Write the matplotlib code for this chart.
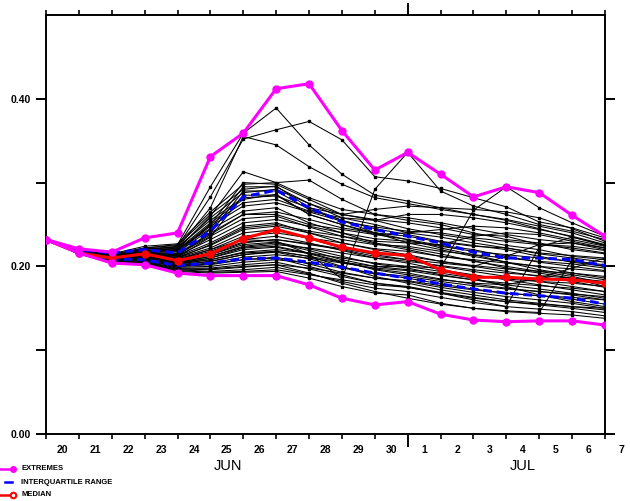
import numpy as np
import matplotlib.pyplot as plt
from matplotlib.lines import Line2D

# days from Jun 20 00:00 (0) to Jul 7 00:00 (17)
days = np.arange(18)
day_labels = ['20', '21', '22', '23', '24', '25', '26', '27', '28', '29', '30',
              '1', '2', '3', '4', '5', '6', '7']

ext_max = [0.232, 0.221, 0.217, 0.234, 0.240, 0.331, 0.359, 0.412, 0.418, 0.362,
           0.315, 0.336, 0.310, 0.283, 0.295, 0.288, 0.261, 0.236]
ext_min = [0.232, 0.216, 0.204, 0.202, 0.192, 0.189, 0.189, 0.189, 0.178, 0.162,
           0.154, 0.158, 0.143, 0.136, 0.134, 0.135, 0.135, 0.130]
median = [0.232, 0.216, 0.210, 0.215, 0.207, 0.215, 0.233, 0.244, 0.234, 0.223,
          0.216, 0.213, 0.196, 0.187, 0.187, 0.185, 0.184, 0.180]
q_upper = [0.232, 0.220, 0.216, 0.220, 0.216, 0.242, 0.283, 0.291, 0.270, 0.253,
           0.244, 0.236, 0.228, 0.217, 0.210, 0.210, 0.208, 0.201]
q_lower = [0.232, 0.217, 0.209, 0.208, 0.201, 0.204, 0.209, 0.210, 0.205, 0.199,
           0.192, 0.186, 0.179, 0.173, 0.168, 0.165, 0.162, 0.155]

# ensemble members
members = [
    [0.232, 0.219, 0.214, 0.222, 0.226, 0.295, 0.359, 0.389, 0.345, 0.310, 0.285, 0.278, 0.270, 0.262, 0.255, 0.245, 0.235, 0.225],
    [0.232, 0.220, 0.213, 0.220, 0.224, 0.283, 0.352, 0.363, 0.373, 0.351, 0.307, 0.302, 0.293, 0.282, 0.271, 0.253, 0.246, 0.234],
    [0.232, 0.219, 0.212, 0.218, 0.222, 0.270, 0.355, 0.345, 0.319, 0.298, 0.282, 0.275, 0.268, 0.262, 0.256, 0.248, 0.240, 0.228],
    [0.232, 0.218, 0.211, 0.216, 0.220, 0.260, 0.313, 0.300, 0.303, 0.280, 0.262, 0.255, 0.250, 0.240, 0.232, 0.228, 0.220, 0.215],
    [0.232, 0.218, 0.210, 0.217, 0.215, 0.250, 0.300, 0.298, 0.280, 0.262, 0.255, 0.245, 0.238, 0.232, 0.225, 0.220, 0.212, 0.208],
    [0.232, 0.219, 0.212, 0.219, 0.221, 0.245, 0.295, 0.295, 0.275, 0.258, 0.250, 0.240, 0.235, 0.228, 0.222, 0.215, 0.210, 0.205],
    [0.232, 0.218, 0.210, 0.214, 0.213, 0.240, 0.290, 0.290, 0.268, 0.255, 0.245, 0.238, 0.230, 0.225, 0.220, 0.212, 0.205, 0.200],
    [0.232, 0.217, 0.209, 0.213, 0.211, 0.235, 0.285, 0.285, 0.262, 0.250, 0.240, 0.232, 0.225, 0.220, 0.212, 0.205, 0.200, 0.195],
    [0.232, 0.220, 0.215, 0.224, 0.227, 0.265, 0.298, 0.300, 0.282, 0.268, 0.262, 0.258, 0.252, 0.245, 0.238, 0.232, 0.228, 0.222],
    [0.232, 0.219, 0.214, 0.222, 0.225, 0.262, 0.292, 0.296, 0.270, 0.255, 0.240, 0.228, 0.220, 0.212, 0.205, 0.196, 0.190, 0.184],
    [0.232, 0.219, 0.213, 0.221, 0.222, 0.258, 0.288, 0.292, 0.275, 0.262, 0.256, 0.252, 0.246, 0.238, 0.236, 0.226, 0.224, 0.219],
    [0.232, 0.218, 0.212, 0.219, 0.220, 0.252, 0.280, 0.286, 0.262, 0.250, 0.238, 0.232, 0.222, 0.214, 0.205, 0.200, 0.192, 0.186],
    [0.232, 0.218, 0.212, 0.218, 0.218, 0.248, 0.272, 0.276, 0.265, 0.254, 0.247, 0.242, 0.240, 0.234, 0.230, 0.226, 0.222, 0.216],
    [0.232, 0.218, 0.211, 0.217, 0.217, 0.244, 0.266, 0.270, 0.252, 0.240, 0.228, 0.222, 0.215, 0.206, 0.200, 0.194, 0.188, 0.180],
    [0.232, 0.218, 0.211, 0.216, 0.215, 0.240, 0.262, 0.265, 0.256, 0.246, 0.240, 0.236, 0.229, 0.224, 0.222, 0.216, 0.213, 0.210],
    [0.232, 0.217, 0.210, 0.216, 0.214, 0.236, 0.257, 0.260, 0.247, 0.236, 0.227, 0.220, 0.212, 0.207, 0.198, 0.192, 0.186, 0.176],
    [0.232, 0.217, 0.210, 0.215, 0.213, 0.232, 0.252, 0.256, 0.248, 0.240, 0.233, 0.230, 0.224, 0.218, 0.214, 0.210, 0.206, 0.202],
    [0.232, 0.217, 0.210, 0.215, 0.212, 0.228, 0.248, 0.252, 0.240, 0.228, 0.220, 0.214, 0.206, 0.200, 0.194, 0.188, 0.182, 0.175],
    [0.232, 0.217, 0.209, 0.214, 0.211, 0.225, 0.244, 0.248, 0.240, 0.232, 0.226, 0.224, 0.218, 0.214, 0.210, 0.206, 0.203, 0.198],
    [0.232, 0.217, 0.209, 0.214, 0.210, 0.222, 0.240, 0.244, 0.233, 0.222, 0.214, 0.208, 0.200, 0.194, 0.188, 0.182, 0.176, 0.170],
    [0.232, 0.216, 0.209, 0.213, 0.209, 0.220, 0.236, 0.240, 0.234, 0.228, 0.221, 0.218, 0.212, 0.208, 0.204, 0.200, 0.197, 0.194],
    [0.232, 0.216, 0.208, 0.213, 0.208, 0.218, 0.232, 0.236, 0.228, 0.219, 0.210, 0.204, 0.196, 0.190, 0.184, 0.178, 0.172, 0.166],
    [0.232, 0.216, 0.208, 0.212, 0.207, 0.216, 0.229, 0.232, 0.227, 0.221, 0.215, 0.212, 0.206, 0.201, 0.197, 0.194, 0.192, 0.188],
    [0.232, 0.216, 0.208, 0.212, 0.206, 0.214, 0.226, 0.229, 0.221, 0.212, 0.203, 0.198, 0.190, 0.184, 0.178, 0.173, 0.168, 0.162],
    [0.232, 0.216, 0.207, 0.211, 0.205, 0.212, 0.223, 0.226, 0.222, 0.216, 0.210, 0.206, 0.201, 0.196, 0.192, 0.189, 0.186, 0.182],
    [0.232, 0.216, 0.207, 0.211, 0.204, 0.210, 0.220, 0.223, 0.215, 0.205, 0.197, 0.192, 0.185, 0.179, 0.174, 0.170, 0.166, 0.160],
    [0.232, 0.215, 0.207, 0.210, 0.203, 0.208, 0.217, 0.220, 0.216, 0.210, 0.204, 0.200, 0.194, 0.189, 0.185, 0.182, 0.180, 0.176],
    [0.232, 0.215, 0.206, 0.210, 0.202, 0.206, 0.214, 0.217, 0.209, 0.199, 0.191, 0.186, 0.179, 0.173, 0.168, 0.165, 0.161, 0.155],
    [0.232, 0.215, 0.206, 0.209, 0.201, 0.204, 0.211, 0.214, 0.210, 0.204, 0.198, 0.195, 0.189, 0.184, 0.180, 0.177, 0.174, 0.170],
    [0.232, 0.215, 0.206, 0.208, 0.200, 0.202, 0.208, 0.211, 0.203, 0.193, 0.186, 0.182, 0.175, 0.169, 0.164, 0.160, 0.156, 0.150],
    [0.232, 0.215, 0.205, 0.207, 0.199, 0.200, 0.205, 0.208, 0.204, 0.198, 0.192, 0.188, 0.182, 0.177, 0.173, 0.170, 0.167, 0.164],
    [0.232, 0.215, 0.205, 0.206, 0.198, 0.198, 0.202, 0.205, 0.197, 0.188, 0.180, 0.176, 0.169, 0.163, 0.158, 0.154, 0.150, 0.145],
    [0.232, 0.215, 0.205, 0.205, 0.197, 0.196, 0.199, 0.202, 0.198, 0.192, 0.186, 0.183, 0.177, 0.172, 0.168, 0.165, 0.163, 0.160],
    [0.232, 0.215, 0.205, 0.204, 0.196, 0.194, 0.196, 0.199, 0.191, 0.182, 0.174, 0.170, 0.163, 0.157, 0.152, 0.149, 0.146, 0.141],
    [0.232, 0.215, 0.205, 0.204, 0.195, 0.193, 0.194, 0.196, 0.190, 0.184, 0.178, 0.175, 0.168, 0.162, 0.158, 0.155, 0.152, 0.148],
    [0.232, 0.216, 0.205, 0.203, 0.194, 0.192, 0.193, 0.194, 0.186, 0.176, 0.168, 0.166, 0.156, 0.150, 0.146, 0.144, 0.142, 0.138],
    [0.232, 0.217, 0.209, 0.213, 0.208, 0.220, 0.232, 0.230, 0.215, 0.185, 0.292, 0.336, 0.290, 0.272, 0.262, 0.250, 0.242, 0.232],
    [0.232, 0.216, 0.207, 0.210, 0.203, 0.208, 0.216, 0.218, 0.212, 0.205, 0.200, 0.200, 0.198, 0.267, 0.295, 0.270, 0.252, 0.236],
    [0.232, 0.216, 0.206, 0.208, 0.200, 0.203, 0.208, 0.210, 0.200, 0.190, 0.180, 0.175, 0.168, 0.160, 0.152, 0.223, 0.235, 0.225],
    [0.232, 0.215, 0.205, 0.205, 0.197, 0.197, 0.200, 0.202, 0.192, 0.180, 0.170, 0.162, 0.155, 0.150, 0.147, 0.145, 0.208, 0.200],
    [0.232, 0.219, 0.213, 0.221, 0.223, 0.255, 0.282, 0.284, 0.270, 0.262, 0.268, 0.272, 0.270, 0.268, 0.265, 0.258, 0.245, 0.230],
    [0.232, 0.218, 0.212, 0.219, 0.219, 0.250, 0.276, 0.280, 0.266, 0.258, 0.255, 0.262, 0.262, 0.258, 0.252, 0.244, 0.236, 0.226],
    [0.232, 0.217, 0.210, 0.216, 0.214, 0.238, 0.262, 0.262, 0.250, 0.244, 0.238, 0.240, 0.244, 0.248, 0.246, 0.240, 0.232, 0.224],
    [0.232, 0.217, 0.209, 0.214, 0.210, 0.226, 0.246, 0.250, 0.242, 0.236, 0.230, 0.228, 0.226, 0.236, 0.240, 0.238, 0.230, 0.222],
    [0.232, 0.216, 0.208, 0.212, 0.206, 0.214, 0.228, 0.232, 0.226, 0.220, 0.212, 0.208, 0.204, 0.200, 0.212, 0.226, 0.228, 0.220],
    [0.232, 0.216, 0.207, 0.210, 0.203, 0.210, 0.222, 0.224, 0.216, 0.206, 0.196, 0.190, 0.184, 0.180, 0.178, 0.186, 0.198, 0.210],
    [0.232, 0.215, 0.206, 0.209, 0.201, 0.206, 0.214, 0.218, 0.212, 0.200, 0.188, 0.180, 0.172, 0.166, 0.160, 0.156, 0.152, 0.150],
    [0.232, 0.216, 0.207, 0.211, 0.204, 0.212, 0.224, 0.228, 0.219, 0.208, 0.200, 0.196, 0.192, 0.186, 0.176, 0.166, 0.158, 0.152],
]

plt.rcParams['font.family'] = ['Liberation Sans', 'DejaVu Sans']

fig = plt.figure(figsize=(6.3, 5.01), dpi=100)
ax = fig.add_axes([46 / 630, 1 - 434 / 501, 559 / 630, 419 / 501])

for m in members:
    ax.plot(days, m, color='black', lw=0.75, marker='s', ms=1.6, zorder=2)

ax.plot(days, q_upper, color='#0000ff', lw=2.2, dashes=(2.8, 1.6), zorder=3)
ax.plot(days, q_lower, color='#0000ff', lw=2.2, dashes=(2.8, 1.6), zorder=3)
ax.plot(days, median, color='#ff0000', lw=2.2, marker='o', ms=5, zorder=4)
ax.plot(days, ext_max, color='#ff00ff', lw=2.2, marker='o', ms=5, zorder=5)
ax.plot(days, ext_min, color='#ff00ff', lw=2.2, marker='o', ms=5, zorder=5)

ax.set_xlim(0, 17)
ax.set_ylim(0, 0.5)

# y axis
ax.set_yticks([0.0, 0.1, 0.2, 0.3, 0.4])
ax.set_yticklabels(['0.00', '', '0.20', '', '0.40'])
ax.tick_params(axis='y', direction='out', length=7, width=1.4, left=True, right=True,
               labelsize=7.5, pad=4)
for lab in ax.get_yticklabels():
    lab.set_fontweight('bold')

# x axis: day ticks minor, month boundary major
ax.set_xticks([11])
ax.set_xticklabels([])
ax.set_xticks(days, minor=True)
ax.tick_params(axis='x', which='major', direction='out', length=9, width=1.4,
               top=True, bottom=True)
ax.tick_params(axis='x', which='minor', direction='out', length=3.5, width=1.2,
               top=True, bottom=True)

for sp in ax.spines.values():
    sp.set_linewidth(1.4)

tr = ax.get_xaxis_transform()
for d, lab in zip(days, day_labels):
    ax.text(d + 0.5, -0.038, lab, transform=tr, ha='center', va='center',
            fontsize=7.5, fontweight='bold', clip_on=False)
ax.text(5.55, -0.076, 'JUN', transform=tr, ha='center', va='center', fontsize=10.5)
ax.text(14.5, -0.076, 'JUL', transform=tr, ha='center', va='center', fontsize=10.5)

# legend under the plot
def leg_y(py):
    return 1 - py / 501

fig.add_artist(Line2D([0, 13 / 630], [leg_y(469)] * 2, color='#ff00ff', lw=1.8))
fig.add_artist(Line2D([13 / 630], [leg_y(469)], color='#ff00ff', marker='o', ms=4))
fig.add_artist(Line2D([5 / 630, 12 / 630], [leg_y(482)] * 2, color='#0000ff', lw=1.8))
fig.add_artist(Line2D([0, 13 / 630], [leg_y(495)] * 2, color='#ff0000', lw=1.8))
fig.add_artist(Line2D([13 / 630], [leg_y(495)], color='#ff0000', marker='o', ms=4,
                      mfc='white', mew=1.5))
for py, txt in [(469, 'EXTREMES'), (482, 'INTERQUARTILE RANGE'), (495, 'MEDIAN')]:
    fig.text(21 / 630, leg_y(py), txt, fontsize=5.5, fontweight='bold', va='center')

fig.savefig('out.png', dpi=100)
